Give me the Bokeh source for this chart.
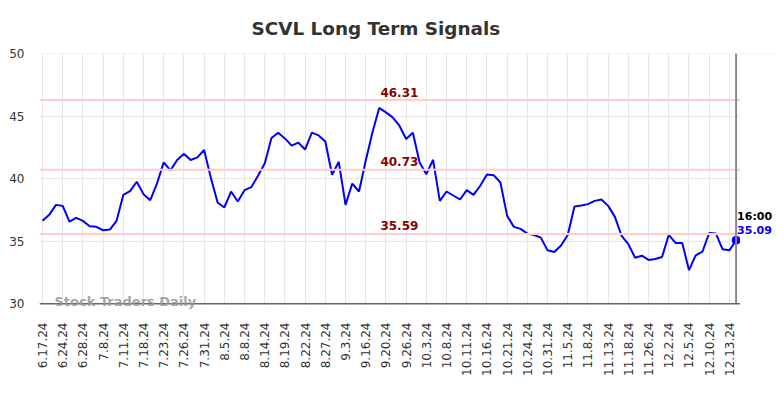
import math
from bokeh.plotting import figure
from bokeh.models import Range1d, FixedTicker, Span, Label, ColumnDataSource, Title, BoxAnnotation
from bokeh.embed import file_html
from bokeh.resources import INLINE

ticker_symbol = "SCVL"
tick_labels = ["6.17.24", "6.24.24", "6.28.24", "7.8.24", "7.11.24", "7.18.24", "7.23.24",
               "7.26.24", "7.31.24", "8.5.24", "8.8.24", "8.14.24", "8.19.24", "8.22.24",
               "8.27.24", "9.3.24", "9.16.24", "9.20.24", "9.26.24", "10.3.24", "10.8.24",
               "10.11.24", "10.16.24", "10.21.24", "10.24.24", "10.31.24", "11.5.24",
               "11.8.24", "11.13.24", "11.18.24", "11.26.24", "12.2.24", "12.5.24",
               "12.10.24", "12.13.24"]
label_step = 3

prices = [36.64, 37.12, 37.92, 37.84, 36.58, 36.88, 36.64, 36.21, 36.16, 35.89,
          35.94, 36.64, 38.72, 39.02, 39.77, 38.78, 38.30, 39.63, 41.32, 40.68,
          41.51, 42.01, 41.51, 41.72, 42.31, 40.10, 38.11, 37.71, 38.99, 38.19,
          39.10, 39.34, 40.25, 41.24, 43.27, 43.70, 43.24, 42.66, 42.90, 42.36,
          43.70, 43.48, 43.00, 40.33, 41.37, 37.92, 39.63, 38.99, 41.45, 43.73,
          45.68, 45.33, 44.93, 44.26, 43.19, 43.70, 41.32, 40.38, 41.53, 38.24,
          38.99, 38.67, 38.35, 39.10, 38.72, 39.45, 40.35, 40.30, 39.71, 37.04,
          36.16, 36.00, 35.62, 35.51, 35.30, 34.28, 34.15, 34.67, 35.51, 37.79,
          37.87, 37.98, 38.24, 38.35, 37.84, 36.96, 35.43, 34.77, 33.69, 33.85,
          33.51, 33.59, 33.75, 35.51, 34.87, 34.87, 32.70, 33.88, 34.17, 35.67,
          35.62, 34.36, 34.28, 35.09]

signal_levels = [46.31, 40.73, 35.59]
last_time = "16:00"
y_ticks = [30, 35, 40, 45, 50]
y_min, y_max = 30, 50

FONT = "DejaVu Sans"
n = len(prices)
idx = list(range(n))
last_i = n - 1
x_start = -0.4455
plot_end = last_i + 0.58          # where the visible chart area ends
px_per_idx = 6.734

W, H = 776, 390
ML, MR, MT, MB = 39, 0, 53, 80
frame_w = W - ML - MR
frame_h = H - MT - MB
px_per_unit = 12.49
y_top = y_max + 0.04
y_lo = y_top - frame_h / px_per_unit

p = figure(width=W, height=H, output_backend="svg", toolbar_location=None,
           x_range=Range1d(x_start, x_start + frame_w / px_per_idx),
           y_range=Range1d(y_lo, y_top),
           min_border_left=ML, min_border_right=MR, min_border_top=MT, min_border_bottom=MB)
p.outline_line_color = None
p.background_fill_color = "white"

p.title = Title(text=f"{ticker_symbol} Long Term Signals", align="left", offset=212,
                standoff=30, text_font=FONT, text_font_size="18.4px", text_font_style="bold",
                text_color="#333333")

# axes
tick_pos = list(range(0, n, label_step))[:len(tick_labels)]
p.xaxis.ticker = FixedTicker(ticks=tick_pos)
p.xaxis.major_label_overrides = {t: lab for t, lab in zip(tick_pos, tick_labels)}
p.xaxis.major_label_orientation = math.pi / 2
p.xaxis.major_label_text_font = FONT
p.xaxis.major_label_text_font_size = "12px"
p.xaxis.major_label_text_color = "#333333"
p.xaxis.major_tick_out = 0
p.xaxis.major_tick_in = 0
p.xaxis.minor_tick_line_color = None
p.xaxis.major_label_standoff = 12
p.xaxis.axis_line_color = None

p.yaxis.ticker = FixedTicker(ticks=y_ticks)
p.yaxis.major_label_text_font = FONT
p.yaxis.major_label_text_font_size = "12px"
p.yaxis.major_label_text_color = "#333333"
p.yaxis.axis_line_color = None
p.yaxis.major_tick_line_color = None
p.yaxis.major_tick_out = 0
p.yaxis.major_tick_in = 0
p.yaxis.minor_tick_line_color = None
p.yaxis.major_label_standoff = 15

p.xgrid.grid_line_color = "#e6e6e6"
p.ygrid.grid_line_color = "#e6e6e6"

# signal lines
for lvl in signal_levels:
    p.add_layout(Span(location=lvl, dimension="width", line_color="#ffcccc", line_width=2))

# last-point vertical line
p.add_layout(Span(location=last_i, dimension="height", line_color="#888888", line_width=2))

# blank area below the base line and right of the chart area
p.add_layout(BoxAnnotation(top=y_min, fill_color="white", fill_alpha=1, line_color=None))
p.add_layout(Span(location=y_min, dimension="width", line_color="#666666", line_width=1.5))
p.add_layout(BoxAnnotation(left=plot_end, fill_color="white", fill_alpha=1, line_color=None))

src = ColumnDataSource(dict(x=idx, y=prices))
p.line("x", "y", source=src, line_color="#0000ff", line_width=2)
p.scatter(x=[last_i], y=[prices[-1]], size=8, color="#0000ff")

for lvl in signal_levels:
    p.add_layout(Label(x=53, y=lvl, text=f"{lvl:.2f}", text_align="center",
                       text_baseline="middle", y_offset=8, text_font=FONT,
                       text_font_size="12px", text_font_style="bold", text_color="#8b0000"))

p.add_layout(Label(x=last_i, y=prices[-1], text=last_time, x_offset=1, y_offset=24,
                   text_baseline="middle", text_font=FONT, text_font_size="11px",
                   text_font_style="bold", text_color="black"))
p.add_layout(Label(x=last_i, y=prices[-1], text=f"{prices[-1]:.2f}", x_offset=1, y_offset=10.5,
                   text_baseline="middle", text_font=FONT, text_font_size="11px",
                   text_font_style="bold", text_color="#0000ff"))

# watermark
p.add_layout(Label(x=0, y=y_min, text="Stock Traders Daily", x_offset=12, y_offset=2,
                   text_baseline="middle", text_font=FONT, text_font_size="13px",
                   text_font_style="bold", text_color="#999999", text_alpha=0.9))

open("out.html", "w").write(file_html(p, INLINE))
